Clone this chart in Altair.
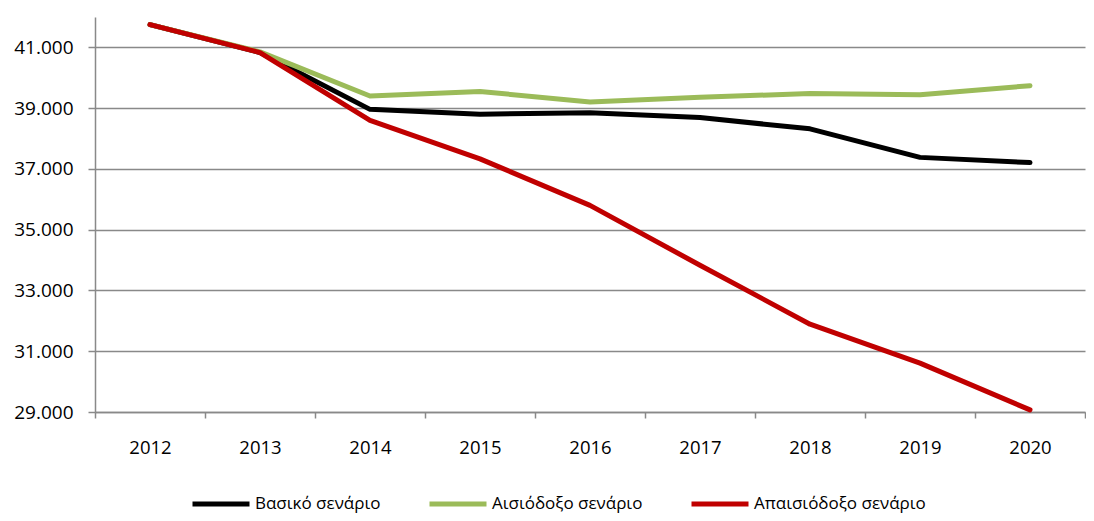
import altair as alt
import pandas as pd

years = ['2012', '2013', '2014', '2015', '2016', '2017', '2018', '2019', '2020']
basic = [41750, 40830, 38960, 38800, 38850, 38690, 38320, 37380, 37210]
optimistic = [41750, 40850, 39400, 39550, 39200, 39360, 39480, 39440, 39740]
pessimistic = [41750, 40830, 38600, 37330, 35800, 33830, 31890, 30610, 29070]
series_names = ['Βασικό σενάριο', 'Αισιόδοξο σενάριο', 'Απαισιόδοξο σενάριο']
series_colors = ['#000000', '#9BBB59', '#C00000']
y_ticks = [29000, 31000, 33000, 35000, 37000, 39000, 41000]

rows = []
for name, vals in zip(series_names, [basic, optimistic, pessimistic]):
    for i, (yr, v) in enumerate(zip(years, vals)):
        rows.append({'year': yr, 'series': name, 'value': v, 'ord': series_names.index(name)})
df = pd.DataFrame(rows)

FONT = 'Open Sans'
GRID = '#898989'

chart = alt.Chart(df).mark_line(strokeWidth=5, strokeCap='round', strokeJoin='round').encode(
    x=alt.X('year:O', title=None,
            scale=alt.Scale(type='band', paddingInner=0, paddingOuter=0),
            axis=alt.Axis(tickBand='extent', labelAngle=0, tickSize=6, tickColor=GRID,
                          domainColor=GRID, domainWidth=1.5, tickWidth=1.5, labelPadding=20,
                          labelFont=FONT, labelFontSize=18.5, labelColor='#000000', grid=False)),
    y=alt.Y('value:Q', title=None,
            scale=alt.Scale(domain=[29000, 42000], nice=False, zero=False),
            axis=alt.Axis(values=y_ticks, labelExpr="replace(format(datum.value, ',.0f'), ',', '.')",
                          grid=True, gridColor=GRID, gridWidth=1.5, domainColor=GRID, domainWidth=1.5,
                          tickColor=GRID, tickWidth=1.5, tickSize=7, labelPadding=15, labelFont=FONT,
                          labelFontSize=19, labelColor='#000000')),
    color=alt.Color('series:N', sort=series_names,
                    scale=alt.Scale(domain=series_names, range=series_colors),
                    legend=alt.Legend(orient='none', legendX=95, legendY=456, direction='horizontal',
                                      columns=3, title=None, symbolType='stroke', symbolSize=3249,
                                      symbolStrokeWidth=5, symbolStrokeColor=None,
                                      labelFont=FONT, labelFontSize=17, labelLimit=400,
                                      labelColor='#000000', columnPadding=38, labelOffset=3)),
    detail='series:N',
    order='ord:Q'
).properties(
    width=990, height=395,
    padding={'left': 87, 'top': 9, 'right': 1, 'bottom': 101},
    autosize=alt.AutoSizeParams(type='none')
).configure_view(stroke=None)

chart.save("out.html", embed_options={"renderer": "svg", "actions": False})
